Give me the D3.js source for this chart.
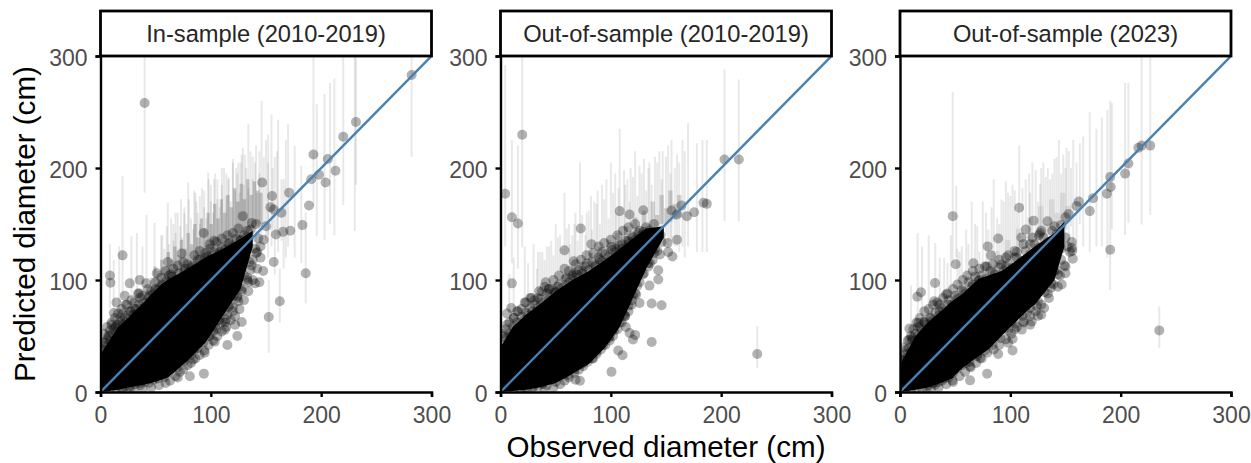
<!DOCTYPE html>
<html>
<head>
<meta charset="utf-8">
<script src="https://cdn.jsdelivr.net/npm/d3@7"></script>
<style>
body { margin: 0; background: #fff; }
text { font-family: "Liberation Sans", Arial, sans-serif; }
</style>
</head>
<body>
<div class="canvas"></div>
<script>
const panelTitles = ['In-sample (2010-2019)', 'Out-of-sample (2010-2019)', 'Out-of-sample (2023)'];
const tickLabels = [0, 100, 200, 300];

// panel 1: points
const obs1 = [40,282,231.5,220,213,206,204,198,193,191,189,183,186,171,146.5,155.5,157,164,154,162.5,152.5,157,172,165.5,159,150,141,137,129,93.5,103,20,8.5,9,26.5,35.5,51,41.5,64,61,73.5,22,14.5,34,23,12,8.5,54,93.7,81,70,84,94.5,103.6,115,124,128,120,124,134,140,144,147.5,114,112.7,102,122,
  4,7,3,10,14,18,20,27,31,36,44,50,57,63,69,76,82,88,95,99,108,116,127,133,
  20,26,36,42,50,55,63,70,77,85,90,98,104,108,113,116,125,128,133,136,138,142,145,148];
const pred1 = [258,283,241,228,197.5,208,187,194,212,190,166.5,149,106,178,187,175,163,160,165,81,67,116,144,143,140.6,148,150,151,157,142,135,122,104,97.5,97,100,106,97,105,116,123.6,86,80,88,78,70.6,55,94,16.4,14,13,29,35,45,42,50,62.5,72,85.5,98,97,98,108,65,55.7,54,60,
  44,50,36,62,58,66,70,72,74,84,86,92,90,98,100,108,111,118,120,128,125,132,136,144,
  2,5,8,12,13,18,21,27,34,38,46,50,58,64,62,76,81,90,100,109,118,125,130,136];
const edgeObs1 = [1,2,3,5,6,8,9,11,12,14,15,17,18,20,22,23,25,27,28,30,32,33,35,37,39,40,43,45,47,49,52,54,56,58,60,63,65,68,71,74,77,80,83,86,90,93,97,100,103,107,110,113,117,120,123,127,130,133,136,
  4,9,14,19,22,27,31,36,40,44,48,52,55,58,62,65,68,70,73,76,79,82,85,88,90,93,96,99,102,105,107,110,112,115,117,120,121,124,126,128,130,133,135,137,140,141,143,
  3,6,10,13,16,19,24,28,31,35,38,43,46,50,55,59,62,66,70,75,79,85,90,95,99,105,110,115,120,125,
  30,38,46,53,59,63,68,72,75,79,82,86,90,94,98,102,106,110,114,118,122,126,130,134,138,142,145];
const edgePred1 = [30,38,44,41,47,50,46,52,57,54,60,58,63,61,66,62,69,65,72,69,74,70,78,74,80,76,84,81,87,85,91,88,96,93,99,97,103,100,106,103,110,107,113,110,118,114,121,119,125,123,129,127,133,130,137,135,140,138,145,
  1,2,3,2,5,4,7,6,9,8,11,12,15,13,18,21,25,22,30,28,35,33,41,39,46,44,52,50,58,56,64,62,72,69,78,76,86,84,94,92,104,102,116,113,128,124,137,
  52,58,60,66,70,74,78,82,80,88,86,92,90,98,102,108,104,110,113,116,114,122,126,124,132,134,137,140,142,146,
  3,3,4,6,8,10,14,18,20,24,26,30,33,37,42,46,50,54,58,64,68,74,82,90,100,110,120];
const barObs1 = [8.5,20,28,33,41.7,49,61,73,79.5,90,97.6,110,120,129,134,141,146,150,155,161,170,176,182,196,203,208,212,220,230.5,40,282,231.5,193,186,162.5,152.5,68,85,103,114,125,138,
  12,17,38,55,66,76,87,94,100,106,116,123,127,131,144,152,158,166,
  56,58,60,62,64,66,68,70,72,74,76,78,80,82,84,86,88,90,92,94,96,98,100,102,104,106,108,110,112,114,116,118,120,122,124,126,128,130,132,134,136,138,140,142,144,148,152,156,160,164,168];
const barLow1 = [75,85,70,60,70,70,80,80,90,95,100,105,115,120,125,125,140,135,130,125,130,120,115,139,136,150,140,167,144,178,210,185,166,79,62,35,75,90,100,110,120,125,
  60,70,60,70,80,85,90,95,100,105,110,115,115,120,120,120,105,110,
  60,62,66,65,68,70,72,74,78,80,80,84,85,88,90,92,95,96,100,100,104,105,110,110,114,116,120,120,122,125,130,130,132,134,135,138,140,140,142,145,145,148,150,150,152,150,140,145,140,135,120];
const barHigh1 = [132,193,139,142,158,151,169,172,187,175,196,200,208,218,239,220,260,225,248,243,239,220,202,257,266,276,280,300,300,300,300,300,300,160,110,100,160,180,190,195,205,210,
  118,130,130,140,150,160,170,180,185,190,192,200,205,212,215,205,210,190,
  140,128,148,132,155,135,142,160,148,138,165,150,172,155,145,178,160,150,182,165,155,190,170,160,195,172,165,185,200,175,190,170,205,180,195,178,212,185,200,182,215,190,205,178,195,210,230,200,215,190,225];
const coreObs1 = [0,16,25,37,46,55,61,79,95,111,127,138];
const coreHigh1 = [34,58,66,78,87,96,100,110,120,128,137,144];
const coreLow1 = [0,2,4,6,8,11,13,28,44,68,92,130];
const hazeObs1 = [45,48,51,54,57,60,63,66,69,72,75,78,81,84,87,90,93,96,99,102,105,108,111,114,117,120,123,126,129,132,135,138,141,144,147];
const hazeLow1 = [80,83,86,89,92,94,96,98,100,102,104,106,108,110,112,114,116,118,120,122,124,126,128,130,132,134,136,138,140,142,144,146,148,150,152];
const hazeHigh1 = [102,112,108,118,112,125,118,130,122,136,128,142,132,150,138,155,146,160,150,168,155,172,160,176,165,182,170,186,172,190,176,188,180,178,170];

// panel 2
const obs2 = [19.7,4.2,10.3,15.8,10.3,9.7,6,203,216,232.7,187,184,175.5,169,164,155,160,129.4,117,108,72.7,58,82.4,66.4,78,92.4,100.6,41,69,49,96,115.8,129.4,72,68,100.6,110.6,106.7,137,120,122,117,113.6,112.7,118.8,126,137,146,123,135,143,143,155.8,152,160,151.5,144.5,135.5,99,84,58,
  3,6,12,16,22,28,34,38,44,52,60,66,74,86,90,104,110,120,126,
  22,30,38,44,50,58,64,70,76,82,90,96,102,106,112,118,124,130,140];
const pred2 = [229.7,177,156,150.4,97,75,70,207.6,207.6,34,168,169,160.5,157,166.5,162,158.5,162.3,158.5,161.5,146,126.6,132,116.8,114.7,125,129.6,98,105,88.5,115,134.6,143,10,11,18,32.8,37,44.7,46.8,51,52.7,58,67.6,78,79.5,79,77.5,87,95,100.4,108.7,121,125,136,133,122.7,115,50,30,16,
  52,60,66,72,80,84,84,90,92,94,102,106,108,112,118,128,132,138,144,
  3,5,8,13,15,22,26,30,36,36,44,48,56,70,78,92,104,118,128];
const edgeObs2 = [1,2,4,5,7,8,10,11,13,15,17,19,21,23,25,27,29,31,34,36,39,42,45,47,50,53,56,59,62,65,68,71,74,77,80,83,86,89,92,95,98,101,104,107,110,113,116,119,122,125,128,132,135,139,
  6,12,18,24,29,34,38,42,46,50,54,58,61,64,67,71,74,77,80,84,87,90,93,96,98,101,103,105,108,110,112,114,116,118,120,122,124,127,129,132,134,137,139,142,145,
  2,5,8,12,15,19,23,27,31,35,40,44,48,53,58,62,68,73,78,84,89,94,100,106,111,116,122,
  40,48,54,58,62,67,71,75,79,83,87,91,95,99,102,106,110,113,116,119,122,126,130,134,138,142,146];
const edgePred2 = [35,42,39,48,44,52,50,58,55,62,59,67,64,71,68,75,72,78,75,83,80,88,84,92,89,96,93,101,98,104,102,109,106,112,109,116,113,120,117,123,121,127,125,131,128,135,132,139,136,142,140,147,144,150,
  1,1,2,3,4,5,7,6,11,9,14,17,15,22,20,27,25,33,30,38,36,44,42,50,48,58,55,64,62,72,69,80,77,90,86,98,95,108,105,118,115,127,124,136,140,
  50,56,62,66,72,74,80,84,82,90,94,92,100,104,110,108,114,118,122,124,130,133,136,140,144,147,150,
  2,4,7,10,13,17,20,23,27,30,34,38,42,46,50,56,62,68,72,82,88,98,106,112,118,126,134];
const barObs2 = [19.7,4.2,10.3,15.8,203,216,232.7,8,12,22,30,34,42,50,58,65,72,78,85,92,100,108,115,122,130,135,140,147,155,160,165,170,178,183,187,
  25,38,46,54,62,68,82,88,96,104,112,118,126,144,152,
  33,36,40,44,48,52,56,60,63,67,70,74,77,80,83,87,90,94,98,102,105,107,110,113,117,120,124,128,132,134,137,142,146,150,154,158,162,167];
const barLow2 = [129,130,115,110,152.5,152.5,21.4,70,75,60,65,60,70,70,80,85,95,100,100,110,110,120,120,125,130,130,135,140,135,130,130,130,125,125,125,
  55,65,70,80,85,95,100,105,110,115,125,125,130,130,130,
  60,65,68,72,76,80,84,86,88,90,94,98,100,102,104,108,110,112,115,118,120,122,124,126,128,130,132,134,138,135,140,140,142,140,135,130,125,120];
const barHigh2 = [300,292,225,220,288,279,58.7,105,120,130,132,125,130,150,178,140,205,160,170,185,205,235,190,215,208,205,210,215,225,212,225,240,222,225,225,
  115,125,135,140,150,160,175,180,190,195,198,200,202,215,220,
  110,125,118,130,122,138,128,146,132,150,135,158,140,162,145,168,150,172,155,178,160,182,165,185,170,192,175,195,180,200,185,205,190,210,195,200,205,215];
const coreObs2 = [0,11,23,35,50,65,80,95,108,120,132,148];
const coreHigh2 = [40,58,69,78,90,100,108,118,128,137,146,148];
const coreLow2 = [0,1,2,4,8,16,25,40,58,84,110,138];
const hazeObs2 = [20,24,28,32,36,40,44,48,52,56,60,64,68,72,76,80,84,88,92,96,100,104,108,112,116,120,124,128,132,136,140,144,148,152,156,160,164];
const hazeLow2 = [45,50,55,60,65,68,72,76,80,84,88,90,94,98,100,104,108,112,114,118,122,124,128,130,134,136,140,142,144,146,148,150,150,152,154,156,158];
const hazeHigh2 = [66,74,70,80,76,88,82,94,88,100,94,110,100,116,106,124,112,130,118,136,124,142,132,148,138,156,144,162,150,170,158,176,164,180,168,176,166];

// panel 3
const obs3 = [47.8,235,190.5,226.8,219,216,204,207,190.5,191,187.5,175,172,162,160,152.7,108,121,114,133.7,127,89,110,79.5,82.5,98,106,66.5,50.5,31.7,19,15.7,41.7,31,35.7,8.5,8.5,16.6,78.6,92,79,63.5,31.7,47.5,89,102,102,72.6,63.5,128,130.6,124,136.7,146.6,142,156.6,155.7,155.7,119.4,110.4,115,
  3,6,11,16,22,28,36,44,52,58,66,72,84,96,104,118,126,140,150,
  24,30,38,42,50,56,60,70,78,86,92,98,106,112,122,130,138,146,150];
const pred3 = [157,55,127,220,220,218,195,204,192,183,177,173,161.5,170,166,159,164.5,153,145,152.5,142,137,138,130,122,122,125,115,114,97.4,89,85,87,81,78,56.6,46.8,61.7,112,113.8,16.4,10.4,6.5,10.4,34,37,47.4,30.4,23,69,75,76.5,93,96,109,119,128.7,134,63,55.7,70.6,
  28,38,48,58,62,66,72,78,84,90,96,100,106,112,120,132,140,148,156,
  3,8,10,16,22,28,26,34,42,50,56,62,74,80,90,100,112,128,138];
const edgeObs3 = [1,2,4,5,7,8,10,11,13,14,16,18,20,22,24,27,29,32,35,38,41,44,47,50,53,56,59,62,65,68,71,74,78,82,86,90,94,98,102,106,110,114,118,122,126,130,134,138,142,146,
  5,10,15,20,25,30,35,40,44,48,52,56,60,63,67,70,74,77,81,84,88,91,95,98,101,104,108,111,115,118,122,125,128,131,134,137,140,143,146,149,152,154,
  98,104,112,118,125,135,143,150,
  1,4,7,10,12,15,18,22,26,30,34,39,43,48,52,57,61,66,72,77,84,90,96,104,112,120,128,
  28,35,42,48,54,59,64,69,74,79,85,90,96,101,106,112,118,123,128,134,139,145,150,156];
const edgePred3 = [22,29,26,34,31,39,36,46,42,52,49,58,55,63,60,66,63,71,68,75,72,82,78,86,83,91,88,98,94,103,99,104,101,108,105,111,108,114,111,120,117,126,123,132,129,138,134,144,141,149,
  1,2,3,3,6,8,9,12,13,17,21,24,29,27,34,32,39,37,44,42,50,48,57,55,63,61,70,68,77,75,83,81,91,89,100,97,108,105,118,113,130,125,
  44,56,63,60,68,84,94,106,
  32,40,46,50,56,62,66,72,74,78,80,84,88,92,96,100,104,108,110,112,114,118,120,126,132,138,144,
  3,4,7,9,14,18,22,26,30,35,38,42,47,52,58,62,68,72,78,88,96,104,112,126];
const barObs3 = [47.8,51,235,190.5,226.8,219,204,207,16,20,26,32,40,46,56,60,65,72,75,80,85,90,96,100,108,114,120,125,130,134,138,144,148,153,157,160,166,172,178,183,188,192,
  10,36,52,68,78,92,104,117,128,136,142,150,
  43,54,62,70,83,88,94,98,102,106,111,118,123,127,132,140,146,151,155,163];
const barLow3 = [115,120,39,91,158,149.5,140,151,50,60,70,60,80,70,90,85,80,100,100,100,100,105,115,120,125,125,130,130,125,130,135,130,125,120,125,125,130,125,130,130,120,145,
  30,65,85,95,105,115,125,130,125,135,130,130,
  70,85,90,95,105,110,115,118,120,122,125,130,130,132,135,140,142,145,148,150];
const barHigh3 = [268,184,76.5,260,300,300,276,276,142,130,140,133,120,140,130,145,170,125,170,145,190,150,188,175,220,190,205,170,205,200,195,225,212,215,225,205,228,250,235,245,252,258,
  95,120,128,150,160,172,180,195,200,190,210,200,
  115,125,132,148,165,155,170,178,185,160,182,178,198,186,192,208,195,218,200,222];
const coreObs3 = [0,7,14,25,37,47,56,71,80,92,98,117,122,140,149];
const coreHigh3 = [24,37,50,62,72,81,87,101,104,108,112,126,130,142,152];
const coreLow3 = [0,1,2,4,8,12,21,32,38,50,56,74,78,100,130];
const hazeObs3 = [20,25,30,35,40,45,50,55,60,65,70,75,80,85,90,95,100,105,110,115,120,125,130,135,140,145,150,155];
const hazeLow3 = [40,48,52,60,66,72,78,84,88,94,98,102,106,110,112,116,120,124,128,130,134,138,140,144,146,150,152,155];
const hazeHigh3 = [65,72,68,80,75,88,82,96,90,108,98,116,106,126,116,136,124,146,134,156,142,166,150,172,160,178,166,170];

const panels = [
  { title: panelTitles[0], left: 100.5, obs: obs1.concat(edgeObs1), pred: pred1.concat(edgePred1), barObs: barObs1, barLow: barLow1, barHigh: barHigh1, coreObs: coreObs1, coreLow: coreLow1, coreHigh: coreHigh1, hazeObs: hazeObs1, hazeLow: hazeLow1, hazeHigh: hazeHigh1, haze: '#cfcfcf' },
  { title: panelTitles[1], left: 500.5, obs: obs2.concat(edgeObs2), pred: pred2.concat(edgePred2), barObs: barObs2, barLow: barLow2, barHigh: barHigh2, coreObs: coreObs2, coreLow: coreLow2, coreHigh: coreHigh2, hazeObs: hazeObs2, hazeLow: hazeLow2, hazeHigh: hazeHigh2, haze: '#d8d8d8' },
  { title: panelTitles[2], left: 900, obs: obs3.concat(edgeObs3), pred: pred3.concat(edgePred3), barObs: barObs3, barLow: barLow3, barHigh: barHigh3, coreObs: coreObs3, coreLow: coreLow3, coreHigh: coreHigh3, hazeObs: hazeObs3, hazeLow: hazeLow3, hazeHigh: hazeHigh3, haze: '#ebebeb' }
];

const svg = d3.select('.canvas')
  .append('svg')
  .attr('width', 1251)
  .attr('height', 463)
  .style('display', 'block');

const panelWidth = 331;
const panelTop = 56;
const panelHeight = 336;
const stripTop = 11;

const x = d3.scaleLinear().domain([0, 300]).range([0, panelWidth]);
const y = d3.scaleLinear().domain([0, 300]).range([panelHeight, 0]);

svg.append('defs').append('clipPath')
  .attr('id', 'panel-clip')
  .append('rect')
  .attr('width', panelWidth)
  .attr('height', panelHeight);

panels.forEach(p => {
  const graph = svg.append('g')
    .attr('transform', `translate(${p.left}, ${panelTop})`);

  const marks = graph.append('g').attr('clip-path', 'url(#panel-clip)');

  // dense grey wedge where the interval lines run together, stepped so the top stays spiky
  const hazeArea = d3.area()
    .curve(d3.curveStepAfter)
    .x(d => x(p.hazeObs[d]))
    .y0(d => y(p.hazeLow[d]))
    .y1(d => y(p.hazeHigh[d]));
  marks.append('path')
    .attr('d', hazeArea(d3.range(p.hazeObs.length)))
    .attr('fill', p.haze);

  // interval lines
  marks.selectAll('.bar')
    .data(d3.range(p.barObs.length))
    .enter()
    .append('line')
    .attr('class', 'bar')
    .attr('x1', d => x(p.barObs[d]))
    .attr('x2', d => x(p.barObs[d]))
    .attr('y1', d => y(p.barLow[d]))
    .attr('y2', d => y(p.barHigh[d]))
    .attr('stroke', '#000')
    .attr('stroke-opacity', 0.09)
    .attr('stroke-width', 2);

  // solid centre of the cloud, too many overlapping points to tell apart
  const coreArea = d3.area()
    .x(d => x(p.coreObs[d]))
    .y0(d => y(p.coreLow[d]))
    .y1(d => y(p.coreHigh[d]));
  marks.append('path')
    .attr('d', coreArea(d3.range(p.coreObs.length)))
    .attr('fill', '#000');

  marks.selectAll('circle')
    .data(d3.range(p.obs.length))
    .enter()
    .append('circle')
    .attr('cx', d => x(p.obs[d]))
    .attr('cy', d => y(p.pred[d]))
    .attr('r', 5)
    .attr('fill', '#000')
    .attr('fill-opacity', 0.3);

  // 1:1 line
  marks.append('line')
    .attr('x1', x(0))
    .attr('y1', y(0))
    .attr('x2', x(300))
    .attr('y2', y(300))
    .attr('stroke', '#4682b4')
    .attr('stroke-width', 2.4);

  const xAxis = d3.axisBottom(x).tickValues(tickLabels).tickSize(5).tickPadding(10);
  const yAxis = d3.axisLeft(y).tickValues(tickLabels).tickSize(5).tickPadding(8);

  const xAxisGroup = graph.append('g')
    .attr('transform', `translate(0, ${panelHeight})`)
    .call(xAxis);
  const yAxisGroup = graph.append('g').call(yAxis);

  [xAxisGroup, yAxisGroup].forEach(g => {
    g.selectAll('path, line').attr('stroke', '#000').attr('stroke-width', 2.4);
    g.selectAll('text').attr('fill', '#4d4d4d').attr('font-size', 23);
  });
  yAxisGroup.selectAll('text').attr('dy', '0.42em');

  // facet strip
  svg.append('rect')
    .attr('x', p.left)
    .attr('y', stripTop)
    .attr('width', panelWidth)
    .attr('height', panelTop - stripTop)
    .attr('fill', '#fff')
    .attr('stroke', '#000')
    .attr('stroke-width', 2.8);
  svg.append('text')
    .attr('x', p.left + panelWidth / 2)
    .attr('y', 42)
    .attr('text-anchor', 'middle')
    .attr('fill', '#262626')
    .attr('font-size', 23.7)
    .text(p.title);
});

svg.append('text')
  .attr('transform', 'translate(35, 224) rotate(-90)')
  .attr('text-anchor', 'middle')
  .attr('font-size', 29.6)
  .text('Predicted diameter (cm)');

svg.append('text')
  .attr('x', 666)
  .attr('y', 457)
  .attr('text-anchor', 'middle')
  .attr('font-size', 29.6)
  .text('Observed diameter (cm)');
</script>
</body>
</html>
